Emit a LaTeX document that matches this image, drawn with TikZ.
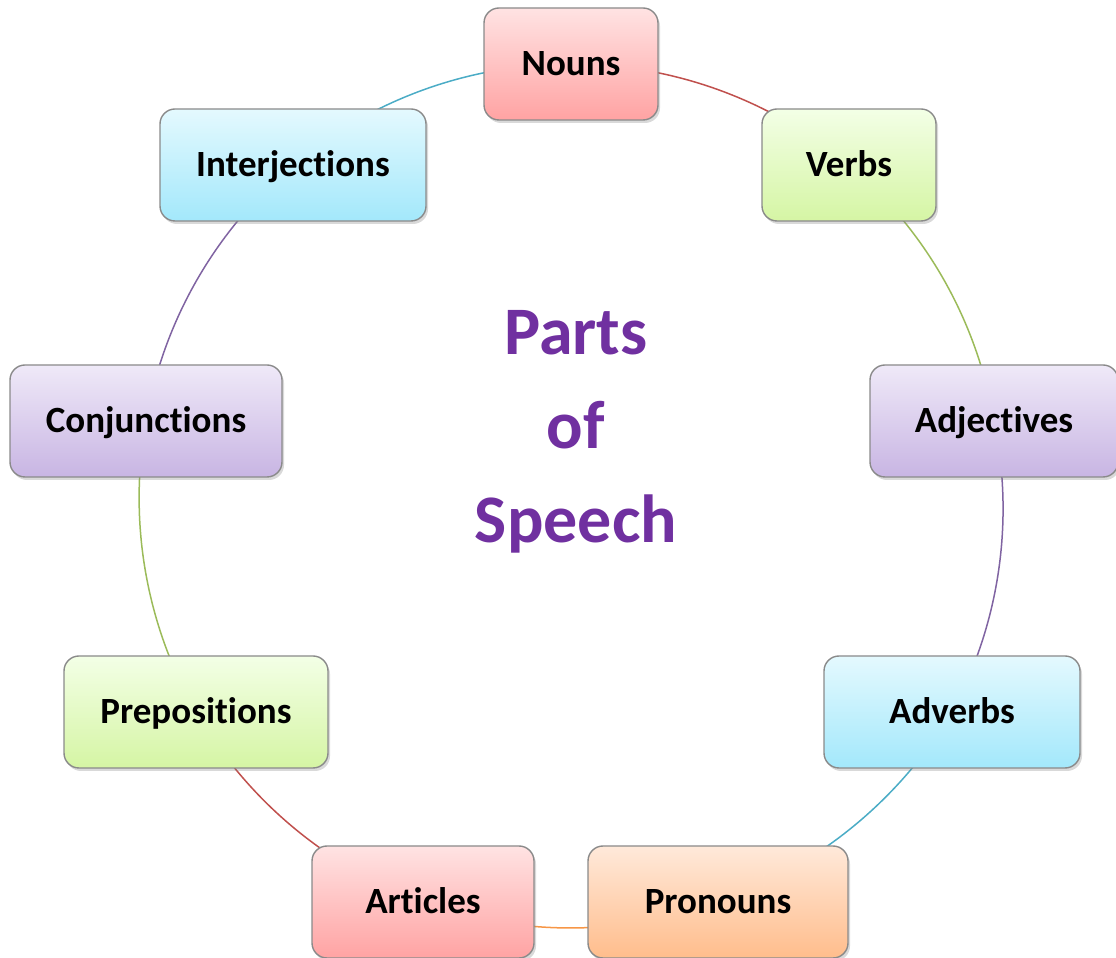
\documentclass[tikz,border=0pt]{standalone}
\usepackage{fontspec}
\setmainfont{Carlito}[Ligatures={NoCommon,NoContextual}]
\usetikzlibrary{shadows,backgrounds}
\definecolor{lnred}{HTML}{C0504D}
\definecolor{lngreen}{HTML}{9BBB59}
\definecolor{lnpurple}{HTML}{8064A2}
\definecolor{lnblue}{HTML}{4BACC6}
\definecolor{lnorange}{HTML}{F79646}
\definecolor{redtop}{HTML}{FFE3E3}
\definecolor{redbot}{HTML}{FFA3A3}
\definecolor{greentop}{HTML}{F3FFE6}
\definecolor{greenbot}{HTML}{D5F5A4}
\definecolor{purpletop}{HTML}{EFE9F8}
\definecolor{purplebot}{HTML}{C8B5E3}
\definecolor{bluetop}{HTML}{E4F9FE}
\definecolor{bluebot}{HTML}{A3E8FB}
\definecolor{orangetop}{HTML}{FFE9DA}
\definecolor{orangebot}{HTML}{FFBD8C}
\definecolor{boxborder}{HTML}{8A8A8A}
\definecolor{titlepurple}{HTML}{7030A0}
\tikzset{
  part/.style={rounded corners=15pt, draw=boxborder, line width=1.4pt,
    minimum height=112pt, inner sep=0pt,
    font=\fontsize{37}{44}\selectfont\bfseries, text height=23.5pt, text depth=0pt,
    drop shadow={opacity=0.3, shadow xshift=2pt, shadow yshift=-3pt}},
  redbox/.style={part, top color=redtop, bottom color=redbot},
  greenbox/.style={part, top color=greentop, bottom color=greenbot},
  purplebox/.style={part, top color=purpletop, bottom color=purplebot},
  bluebox/.style={part, top color=bluetop, bottom color=bluebot},
  orangebox/.style={part, top color=orangetop, bottom color=orangebot},
  link/.style={line width=1.5pt, looseness=0.88, bend left=20},
  titletext/.style={font=\fontsize{68}{94}\selectfont\bfseries, text=titlepurple, align=center, inner sep=0pt}
}
\begin{document}
\begin{tikzpicture}[x=1pt,y=1pt]
\useasboundingbox (0,0) rectangle (1116,958);
\node[redbox, minimum width=174pt] (nouns) at (571,894) {Nouns};
\node[greenbox, minimum width=174pt] (verbs) at (849,793) {Verbs};
\node[purplebox, minimum width=248pt] (adjectives) at (994,537) {Adjectives};
\node[bluebox, minimum width=256pt] (adverbs) at (952,246) {Adverbs};
\node[orangebox, minimum width=260pt] (pronouns) at (718,56) {Pronouns};
\node[redbox, minimum width=222pt] (articles) at (423,56) {Articles};
\node[greenbox, minimum width=264pt] (prepositions) at (196,246) {Prepositions};
\node[purplebox, minimum width=272pt] (conjunctions) at (146,537) {Conjunctions};
\node[bluebox, minimum width=266pt] (interjections) at (293,793) {Interjections};
\node[titletext] (title) at (576,526) {Parts\\of\\Speech};
\begin{scope}[on background layer]
\draw[link, lnred] (nouns.center) to (verbs.center);
\draw[link, lngreen] (verbs.center) to (adjectives.center);
\draw[link, lnpurple] (adjectives.center) to (adverbs.center);
\draw[link, lnblue] (adverbs.center) to (pronouns.center);
\draw[link, lnorange] (pronouns.center) to (articles.center);
\draw[link, lnred] (articles.center) to (prepositions.center);
\draw[link, lngreen] (prepositions.center) to (conjunctions.center);
\draw[link, lnpurple] (conjunctions.center) to (interjections.center);
\draw[link, lnblue] (interjections.center) to (nouns.center);
\end{scope}
\end{tikzpicture}
\end{document}
